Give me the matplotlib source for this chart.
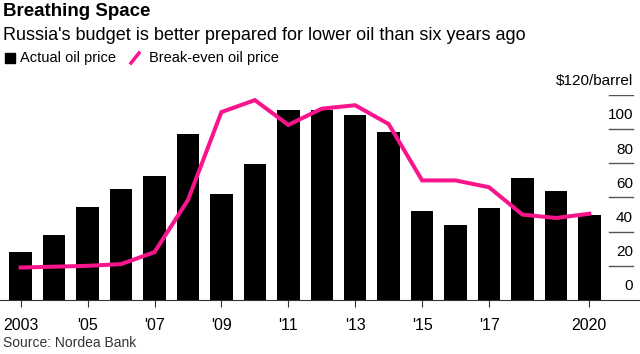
import numpy as np
import matplotlib
matplotlib.use('Agg')
import matplotlib.pyplot as plt
import matplotlib.transforms as mtransforms

plt.rcParams['font.family'] = ['Liberation Sans', 'DejaVu Sans']

years = np.arange(2003, 2021)
actual = [28, 38, 54.5, 65, 72.5, 97, 62, 79.5, 111, 111.5, 108.5, 98.5,
          52, 44, 54, 71.5, 64, 49.5]
breakeven = [19, 19.5, 20, 21, 28, 58.5, 110, 117, 102.5, 112, 114, 103,
             70, 70, 66, 50, 48, 50.5]
tick_years = [2003, 2005, 2007, 2009, 2011, 2013, 2015, 2017, 2020]
tick_labels = ['2003', "'05", "'07", "'09", "'11", "'13", "'15", "'17", '2020']
ygrid = [20, 40, 60, 80, 100, 120]
ylabels = ['20', '40', '60', '80', '100', '$120/barrel']

pink = '#fa148c'

fig = plt.figure(figsize=(6.4, 3.54), dpi=100)
W, H = 640, 354
# axes: baseline at y=300px, 120 at y=95px
ax = fig.add_axes([0, (H - 300) / H, 1, (300 - 95) / H])
px_per_year = 33.45
x0 = 2003 - 20.7 / px_per_year
x1 = 2003 + (640 - 20.7) / px_per_year
ax.set_xlim(x0, x1)
ax.set_ylim(0, 120)

ax.bar(years, actual, width=0.67, color='black', zorder=2)
ax.plot(years, breakeven, color=pink, lw=2.9, solid_joinstyle='miter',
        zorder=3, clip_on=False)

# short gridlines on the right with labels above
trans = mtransforms.blended_transform_factory(ax.transAxes, ax.transData)
for v in ygrid:
    ax.axhline(v, xmin=609 / W, xmax=633 / W, color='#555555', lw=1.0)
for v, lab in zip([0] + ygrid, ['0'] + ylabels):
    ax.text(633 / W, v + 8, lab, transform=trans,
            ha='right', va='center', fontsize=11, color='black')

for s in ['top', 'right', 'left']:
    ax.spines[s].set_visible(False)
ax.spines['bottom'].set_color('#333333')
ax.set_yticks([])
ax.set_xticks(tick_years)
ax.set_xticklabels(tick_labels, fontsize=11.5)
ax.tick_params(axis='x', length=5, color='#333333', pad=8)

fig.text(3 / W, 1 - 12 / H, 'Breathing Space', fontsize=13.5, fontweight='bold',
         va='center', ha='left')
fig.text(3 / W, 1 - 35 / H, "Russia's budget is better prepared for lower oil than six years ago",
         fontsize=13, va='center', ha='left')

# legend
fig.patches.append(plt.Rectangle((5 / W, 1 - 63 / H), 10 / W, 10 / H,
                                 color='black', transform=fig.transFigure))
fig.text(20 / W, 1 - 58 / H, 'Actual oil price', fontsize=10.5, va='center', ha='left')
fig.lines.append(plt.Line2D([131 / W, 139 / W], [1 - 63 / H, 1 - 53 / H], color=pink,
                            lw=2.5, transform=fig.transFigure))
fig.text(149 / W, 1 - 58 / H, 'Break-even oil price', fontsize=10.5, va='center', ha='left')

fig.text(3 / W, 1 - 343 / H, 'Source: Nordea Bank', fontsize=10, va='center', ha='left',
         color='#333333')

fig.savefig('out.png', dpi=100)
